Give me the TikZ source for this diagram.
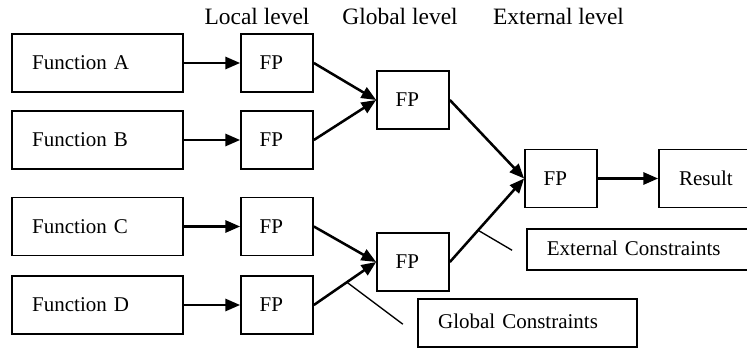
\documentclass[tikz,border=0pt]{standalone}
\usepackage{fontspec}
\setmainfont{Liberation Serif}
\usetikzlibrary{arrows.meta}

\begin{document}
\begin{tikzpicture}[x=0.75pt, y=-0.75pt,
    every node/.style={font=\fontsize{15.75pt}{18pt}\selectfont},
    head/.style={font=\fontsize{17.6pt}{20pt}\selectfont, anchor=base, inner sep=0pt},
    fbox/.style={draw, line width=1.3pt, inner xsep=15pt, inner ysep=0pt,
      text height=1em, text depth=0pt, align=left, minimum height=43.5pt},
    funcbox/.style={fbox, text width=98pt},
    fpbox/.style={fbox, inner xsep=14pt, text width=26pt},
    resbox/.style={fbox, text width=42pt},
    consbox/.style={fbox, text width=139pt, minimum height=31pt, text height=0.9em},
    flow/.style={line width=1.9pt, -{Triangle[length=11pt, width=9pt]}},
    tick/.style={line width=1pt}]

    \useasboundingbox (0,0) rectangle (747,349);
    \clip (0,0) rectangle (747,349);

    % level headings
    \node[head] (hloc) at (257,25) {Local level};
    \node[head] (hglo) at (400,25) {Global level};
    \node[head] (hext) at (558.5,25) {External level};

    % functions and local FPs
    \foreach \n/\l/\y in {a/A/63, b/B/140, c/C/226.5, d/D/305} {
      \node[funcbox] (f\n) at (97.5,\y) {Function \l};
      \node[fpbox] (l\n) at (277,\y) {FP};
      \draw[flow] (f\n) -- (l\n);
    }

    % global FPs
    \node[fpbox] (g1) at (413,100) {FP};
    \node[fpbox] (g2) at (413,262) {FP};
    \draw[flow] (la.east) -- (g1.west);
    \draw[flow] (lb.east) -- (g1.west);
    \draw[flow] (lc.east) -- (g2.west);
    \draw[flow] (ld.east) -- coordinate[pos=0.53] (gc) (g2.west);

    % external FP and result
    \node[fpbox] (x) at (561,178.5) {FP};
    \node[resbox] (res) at (707,178.5) {Result};
    \draw[flow] (g1.east) -- (x.west);
    \draw[flow] (g2.east) -- coordinate[pos=0.38] (xc) (x.west);
    \draw[flow] (x) -- (res);

    % constraints
    \node[consbox, text width=139pt] (xcon) at (639.5,249.5) {External Constraints};
    \node[consbox, text width=134pt, minimum height=36pt, text height=0.8em] (gcon) at (527.5,323) {Global Constraints};
    \draw[tick] (xc) -- ++(34,20);
    \draw[tick] (gc) -- ++(56,42);
\end{tikzpicture}
\end{document}
